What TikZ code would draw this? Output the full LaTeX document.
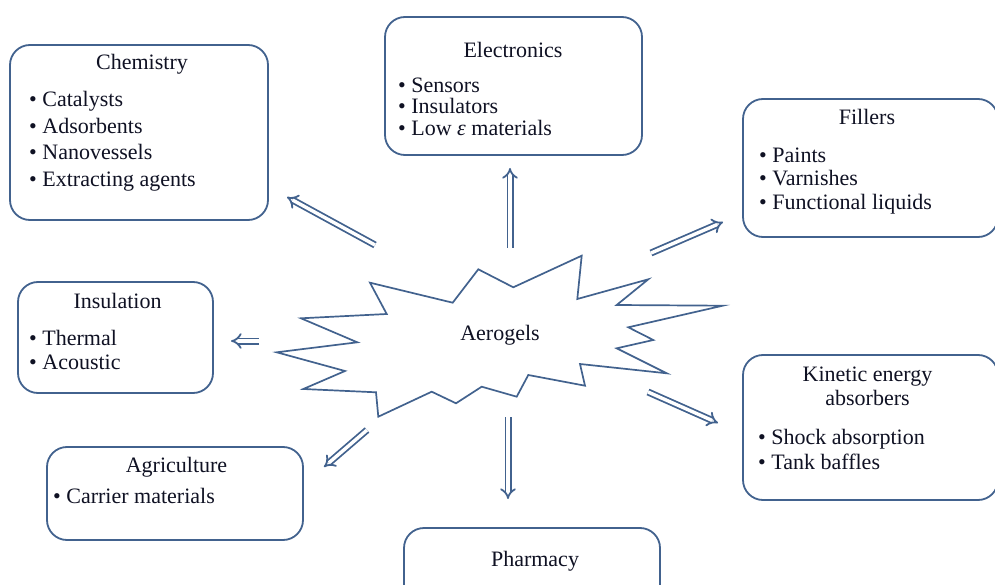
\documentclass[tikz,border=0pt]{standalone}
\usepackage{fontspec}
\setmainfont{Liberation Serif}
\usetikzlibrary{arrows.meta}
\definecolor{edge}{RGB}{66,98,142}
\definecolor{ink}{RGB}{15,17,35}
\begin{document}
\begin{tikzpicture}[x=1pt,y=-1pt,
  txt/.style={font=\fontsize{22}{26}\selectfont, text=ink, inner sep=0pt},
  title/.style={txt, anchor=base},
  item/.style={txt, anchor=base west},
  box/.style={draw=edge, line width=1.8pt, rounded corners=20pt, inner sep=0pt, fill=white},
  hollow/.style={draw=edge, line width=1.8pt, double=white, double distance=3.4pt, -{Implies[scale=1.25]}},
]
\useasboundingbox (0,0) rectangle (995,585);
\clip (0,0) rectangle (995,585);

% application boxes
\node[box, minimum width=258, minimum height=175] (chemBox) at (139,132.5) {};
\node[box, minimum width=257, minimum height=138] (elecBox) at (513.5,86) {};
\node[box, minimum width=255, minimum height=138] (fillBox) at (870.5,168) {};
\node[box, minimum width=255, minimum height=145] (kinBox) at (870.5,427.5) {};
\node[box, minimum width=195, minimum height=111] (insBox) at (115.5,337.5) {};
\node[box, minimum width=256, minimum height=93] (agriBox) at (175,493.5) {};
\node[box, minimum width=256, minimum height=92] (pharmBox) at (532,574) {};

% titles
\node[title] (chemT) at (142,70) {Chemistry};
\node[title] (elecT) at (513,57.5) {Electronics};
\node[title] (fillT) at (867,125) {Fillers};
\node[title] (kinT1) at (867.5,381) {Kinetic energy};
\node[title] (kinT2) at (867.5,405) {absorbers};
\node[title] (insT) at (117.5,308) {Insulation};
\node[title] (agriT) at (176.5,472) {Agriculture};
\node[title] (pharmT) at (535,566.5) {Pharmacy};

% bullet lists
\foreach \t [count=\i] in {Catalysts, Adsorbents, Nanovessels, Extracting agents}
  \node[item] (chem\i) at (29,{107+26.5*(\i-1)}) {• \t};
\foreach \t [count=\i] in {Sensors, Insulators, Low {\itshape ε} materials}
  \node[item] (elec\i) at (398,{92.3+21.4*(\i-1)}) {• \t};
\foreach \t [count=\i] in {Paints, Varnishes, Functional liquids}
  \node[item] (fill\i) at (759,{162.7+23.3*(\i-1)}) {• \t};
\foreach \t [count=\i] in {Shock absorption, Tank baffles}
  \node[item] (kin\i) at (758,{444.3+24.7*(\i-1)}) {• \t};
\foreach \t [count=\i] in {Thermal, Acoustic}
  \node[item] (ins\i) at (29,{345.7+23.3*(\i-1)}) {• \t};
\node[item] (agri1) at (53,503.3) {• Carrier materials};

% central starburst
\draw[edge, line width=1.7pt, line join=miter, fill=white]
  (370,282.7) -- (452.7,302.7) -- (478.3,269.3) -- (513.3,287.3) -- (581.7,255.7)
  -- (577.3,299) -- (648.3,279.3) -- (616.7,305) -- (722.7,305.7) -- (628.3,327.3)
  -- (653.3,340) -- (616.7,348.3) -- (666.7,373.3) -- (580,364) -- (585,385.7)
  -- (528.3,375) -- (516.7,396.7) -- (481.7,386.7) -- (456,403.3) -- (431.7,391.7)
  -- (378.3,416.7) -- (376,392.3) -- (303.3,389) -- (345,371) -- (276.7,352.3)
  -- (357.3,342.3) -- (301,318.3) -- (386.7,314) -- cycle;
\node[title] (aero) at (500,340) {Aerogels};

% arrow end points
\coordinate (chemTail) at (375,245);  \coordinate (chemTip) at (287,197);
\coordinate (elecTail) at (510,248);  \coordinate (elecTip) at (510,168);
\coordinate (fillTail) at (651,253);  \coordinate (fillTip) at (723,222);
\coordinate (insTail) at (259,341);   \coordinate (insTip) at (231,341);
\coordinate (kinTail) at (648,392);   \coordinate (kinTip) at (718,423);
\coordinate (agriTail) at (367,430);  \coordinate (agriTip) at (324,467);
\coordinate (pharmTail) at (508,417); \coordinate (pharmTip) at (508,499);

% hollow arrows
\draw[hollow] (chemTail) -- (chemTip);
\draw[hollow] (elecTail) -- (elecTip);
\draw[hollow] (fillTail) -- (fillTip);
\draw[hollow] (insTail) -- (insTip);
\draw[hollow] (kinTail) -- (kinTip);
\draw[hollow] (agriTail) -- (agriTip);
\draw[hollow] (pharmTail) -- (pharmTip);
\end{tikzpicture}
\end{document}
